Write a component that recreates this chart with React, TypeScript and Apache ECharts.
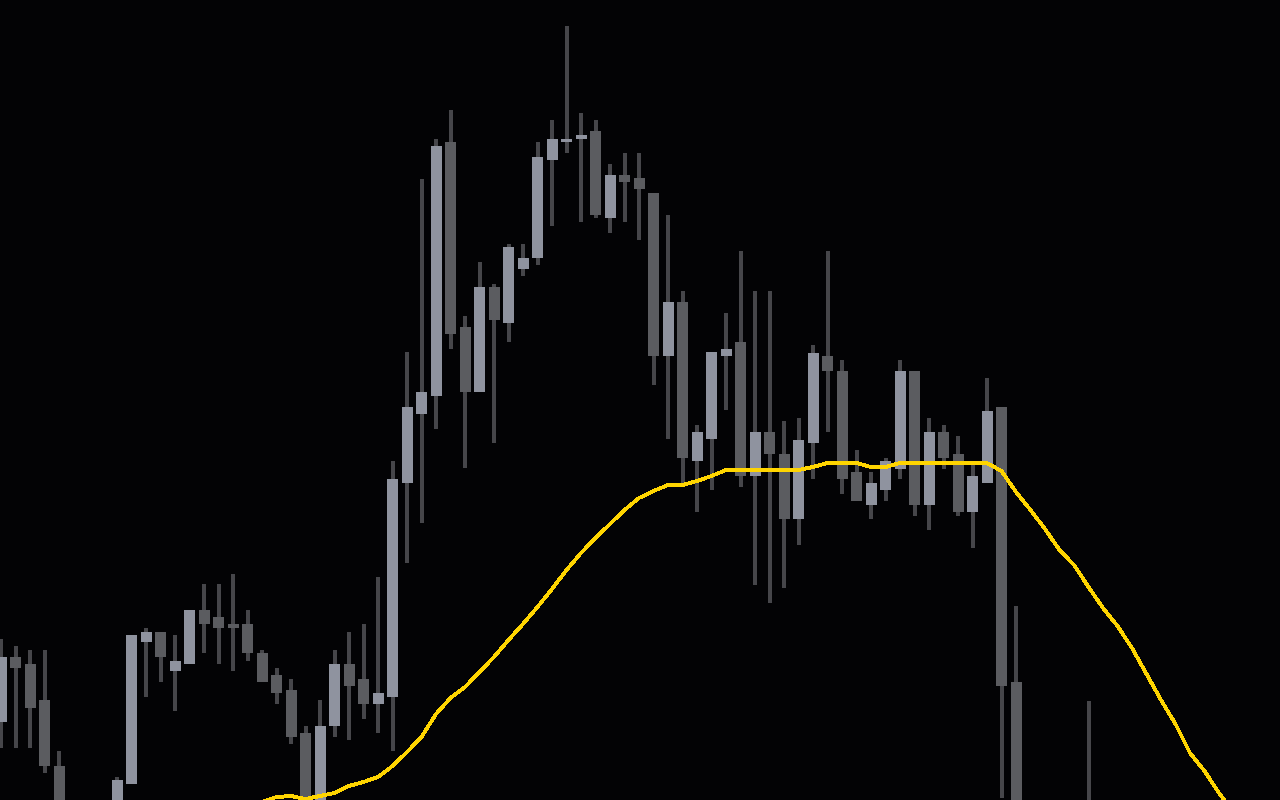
import React, { useEffect, useRef } from "react";
import * as echarts from "echarts";

// Candle index (one per bar), open / close / high / low prices
const openP = [
  278, 343, 336, 300, 234, 168, 130, 155, 142, 216,
  358, 368, 329, 336, 390, 383, 376, 376, 347, 325,
  310, 267, 160, 274, 336, 321, 296, 303, 517, 586,
  604, 858, 673, 608, 713, 677, 731, 742, 840, 858,
  861, 869, 782, 825, 822, 807, 644, 698, 539, 561,
  644, 658, 524, 568, 546, 481, 557, 644, 629, 528,
  495, 510, 531, 629, 495, 568, 546, 488, 517, 593,
  318, 120, 80, 100, 50, 160, 40, 70, 30, 60,
  25, 55, 35, 60, 30, 50, 25, 45, 20,
];
const closeP = [
  343, 332, 292, 234, 168, 130, 155, 140, 220, 365,
  368, 343, 339, 390, 376, 372, 372, 347, 318, 307,
  263, 165, 274, 336, 314, 296, 307, 521, 593, 608,
  854, 666, 608, 713, 680, 753, 742, 843, 861, 861,
  865, 785, 825, 818, 811, 644, 698, 542, 568, 648,
  651, 524, 568, 546, 481, 560, 647, 629, 521, 499,
  517, 539, 629, 495, 568, 542, 488, 524, 589, 314,
  120, 80, 100, 50, 10, 40, 70, 30, 60, 25,
  55, 35, 60, 30, 50, 25, 45, 20, 40,
];
const highP = [
  361, 354, 350, 350, 249, 180, 172, 185, 223, 365,
  372, 368, 365, 390, 416, 416, 426, 390, 350, 332,
  321, 274, 300, 350, 368, 376, 423, 539, 648, 821,
  861, 890, 684, 738, 716, 756, 756, 858, 880, 974,
  887, 880, 836, 847, 847, 807, 785, 709, 575, 648,
  687, 749, 709, 709, 579, 582, 655, 749, 640, 550,
  528, 542, 640, 629, 582, 575, 564, 535, 622, 593,
  394, 150, 140, 130, 70, 299, 110, 90, 85, 80,
  75, 70, 80, 75, 70, 65, 60, 55, 50,
];
const lowP = [
  252, 252, 252, 227, 152, 115, 120, 128, 134, 216,
  303, 318, 289, 336, 347, 336, 329, 339, 318, 296,
  256, 150, 145, 263, 260, 281, 267, 249, 437, 477,
  571, 651, 532, 608, 557, 658, 724, 735, 774, 847,
  778, 782, 767, 778, 760, 615, 561, 513, 488, 510,
  590, 513, 415, 397, 412, 455, 521, 568, 506, 499,
  481, 499, 521, 484, 470, 531, 484, 452, 517, 202,
  100, 60, 65, 35, 0, 10, 20, 15, 10, 5,
  10, 20, 15, 10, 15, 10, 5, 10, 5,
];
// Moving average (null where not plotted)
const maP = [
  null, null, null, null, null, null, null, null, null, null,
  null, null, null, null, null, null, null, 190, 198, 203,
  204, 201, 204, 207, 214, 218, 223, 234, 248, 263,
  286, 302, 313, 328, 343, 360, 376, 393, 411, 430,
  447, 462, 476, 490, 502, 509, 515, 515, 519, 524,
  530, 530, 530, 530, 530, 530, 533, 537, 537, 537,
  533, 533, 537, 537, 537, 537, 537, 537, 537, 529,
  508, 490, 471, 450, 435, 413, 392, 374, 352, 326,
  300, 276, 247, 229, 207, 188, 168, 150, 130,
];

const UP = "#8f939f";
const DOWN = "#5b5c60";
const WICK = "#46464a";
const MA = "#ffd500";
const BG = "#030305";

export default function App() {
  const ref = useRef<HTMLDivElement>(null);
  useEffect(() => {
    if (!ref.current) return;
    const chart = echarts.init(ref.current, undefined, { renderer: "svg" });
    const candles = openP.map((o, i) => [i, o, closeP[i], lowP[i], highP[i]]);
    const maData: any[] = [];
    maP.forEach((v, i) => {
      if (v !== null) maData.push([i, v]);
    });
    const step = 14.5;
    const xMin = -1 / step;
    const xMax = xMin + 1280 / step;
    chart.setOption({
      animation: false,
      backgroundColor: BG,
      grid: { left: 0, right: 0, top: 0, bottom: 0 },
      xAxis: {
        type: "value",
        min: xMin,
        max: xMax,
        show: false,
        splitLine: { show: false },
      },
      yAxis: {
        type: "value",
        min: 200,
        max: 1000,
        show: false,
        splitLine: { show: false },
      },
      series: [
        {
          type: "custom",
          clip: true,
          encode: { x: 0, y: [1, 2, 3, 4] },
          data: candles,
          renderItem: (params: any, api: any) => {
            const i = api.value(0);
            const o = api.value(1);
            const c = api.value(2);
            const l = api.value(3);
            const h = api.value(4);
            const pO = api.coord([i, o]);
            const pC = api.coord([i, c]);
            const pL = api.coord([i, l]);
            const pH = api.coord([i, h]);
            const x = pO[0];
            const top = Math.min(pO[1], pC[1]);
            const bot = Math.max(pO[1], pC[1]);
            const up = c >= o;
            return {
              type: "group",
              children: [
                {
                  type: "rect",
                  shape: { x: x - 2, y: pH[1], width: 4, height: pL[1] - pH[1] },
                  style: { fill: WICK },
                },
                {
                  type: "rect",
                  shape: { x: x - 5.5, y: top, width: 11, height: Math.max(bot - top, 2) },
                  style: { fill: up ? UP : DOWN },
                },
              ],
            };
          },
          z: 1,
        },
        {
          type: "line",
          data: maData,
          showSymbol: false,
          clip: true,
          lineStyle: { color: MA, width: 4 },
          z: 5,
        },
      ],
    });
    return () => chart.dispose();
  }, []);
  return (
    <>
      <style>{`#chart svg, #chart svg * { shape-rendering: crispEdges; }`}</style>
      <div
        id="chart"
        ref={ref}
        style={{ position: "fixed", left: 0, top: 0, width: 1280, height: 800, background: BG }}
      />
    </>
  );
}
